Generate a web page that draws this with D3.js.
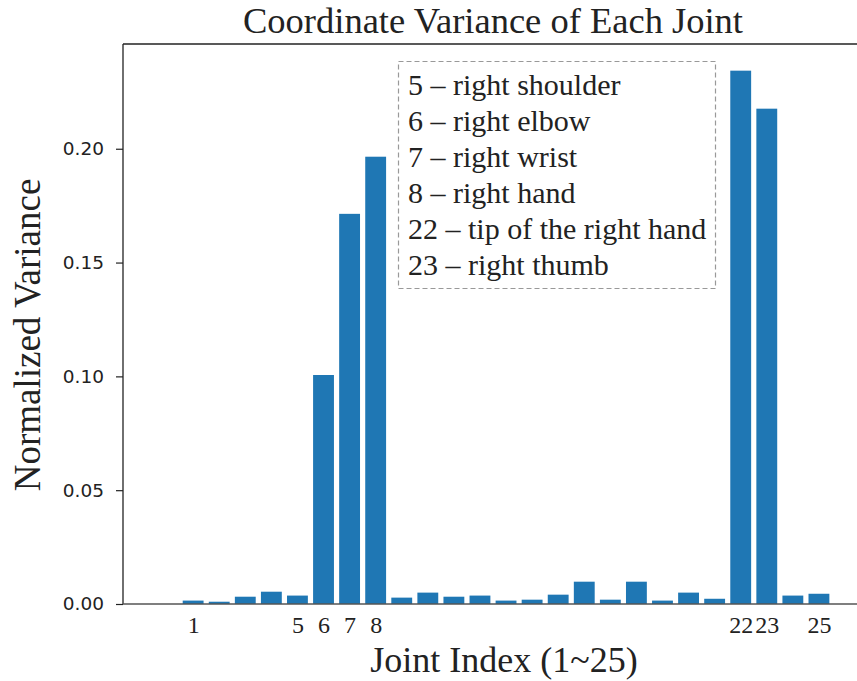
<!DOCTYPE html>
<html>
<head>
<meta charset="utf-8">
<script src="https://cdn.jsdelivr.net/npm/d3@7"></script>
<style>
  body { margin: 0; background: #fff; }
  svg { display: block; }
</style>
</head>
<body>
<div id="chart"></div>
<script>
// joint index 1..25
var joints = d3.range(1, 26)
var variance = [0.0015, 0.0010, 0.0032, 0.0054, 0.0037, 0.1006, 0.1714, 0.1965, 0.0028, 0.0050,
                0.0032, 0.0037, 0.0015, 0.0019, 0.0041, 0.0098, 0.0019, 0.0098, 0.0015, 0.0050,
                0.0023, 0.2343, 0.2176, 0.0037, 0.0045]
var xTickLabels = [1, 5, 6, 7, 8, 22, 23, 25]
var yTicks = [0, 0.05, 0.10, 0.15, 0.20]
var legendLines = ["5 \u2013 right shoulder", "6 \u2013 right elbow", "7 \u2013 right wrist",
                   "8 \u2013 right hand", "22 \u2013 tip of the right hand", "23 \u2013 right thumb"]

var W = 857, H = 681
var padL = 123, padR = 863, padT = 44, padB = 604
var serif = "'Liberation Serif', 'Times New Roman', serif"
var sans = "'DejaVu Sans', sans-serif"

var svg = d3.select("#chart").append("svg")
    .attr("width", W).attr("height", H)

// matplotlib style limits: an empty slot at 0 and 5% margins
var x = d3.scaleLinear().domain([-1.69, 26.69]).range([padL, padR])
var y = d3.scaleLinear().domain([0, d3.max(variance) * 1.05]).range([padB, padT])

svg.append("g")
    .selectAll("rect")
    .data(joints)
    .enter().append("rect")
    .attr("x", function(d){ return x(d - 0.4) })
    .attr("width", function(d){ return x(d + 0.4) - x(d - 0.4) })
    .attr("y", function(d, i){ return y(variance[i]) })
    .attr("height", function(d, i){ return y(0) - y(variance[i]) })
    .attr("fill", "#1f77b4")

// y axis
var yAxis = svg.append("g")
    .attr("transform", "translate(" + padL + ",0)")
    .call(d3.axisLeft(y).tickValues(yTicks).tickFormat(d3.format(".2f")).tickSize(7).tickPadding(12))
yAxis.select(".domain").remove()
yAxis.selectAll("line").attr("stroke", "#222").attr("stroke-width", 1.2)
yAxis.selectAll("text").attr("font-family", sans).attr("font-size", 18.5).attr("fill", "#222")

// x axis (labels only)
var xAxis = svg.append("g")
    .attr("transform", "translate(0," + padB + ")")
    .call(d3.axisBottom(x).tickValues(xTickLabels).tickFormat(d3.format("d")).tickSize(0).tickPadding(12))
xAxis.select(".domain").remove()
xAxis.selectAll("text").attr("font-family", serif).attr("font-size", 24).attr("fill", "#222")

// spines
svg.append("line").attr("x1", padL).attr("x2", padL).attr("y1", padT).attr("y2", padB)
    .attr("stroke", "#222").attr("stroke-width", 1.3)
svg.append("line").attr("x1", padL).attr("x2", padR).attr("y1", padT).attr("y2", padT)
    .attr("stroke", "#222").attr("stroke-width", 1.3)
svg.append("line").attr("x1", padL).attr("x2", padR).attr("y1", padB).attr("y2", padB)
    .attr("stroke", "#555").attr("stroke-width", 1.3)

// title and axis labels
svg.append("text")
    .attr("x", (padL + padR) / 2).attr("y", 33)
    .attr("text-anchor", "middle")
    .attr("font-family", serif).attr("font-size", 36.5).attr("fill", "#222")
    .text("Coordinate Variance of Each Joint")

svg.append("text")
    .attr("x", 504).attr("y", 672)
    .attr("text-anchor", "middle")
    .attr("font-family", serif).attr("font-size", 36).attr("fill", "#222")
    .text("Joint Index (1~25)")

svg.append("text")
    .attr("transform", "translate(40,335) rotate(-90)")
    .attr("text-anchor", "middle")
    .attr("font-family", serif).attr("font-size", 37).attr("fill", "#222")
    .text("Normalized Variance")

// legend box
var lg = svg.append("g")
lg.append("rect")
    .attr("x", 398.5).attr("y", 61.5).attr("width", 317).attr("height", 227)
    .attr("fill", "#fff").attr("stroke", "#999").attr("stroke-width", 1.2)
    .attr("stroke-dasharray", "5,3")
lg.selectAll("text")
    .data(legendLines)
    .enter().append("text")
    .attr("x", 408)
    .attr("y", function(d, i){ return 95 + i * 36 })
    .attr("font-family", serif).attr("font-size", 30).attr("fill", "#222")
    .text(function(d){ return d })
</script>
</body>
</html>
